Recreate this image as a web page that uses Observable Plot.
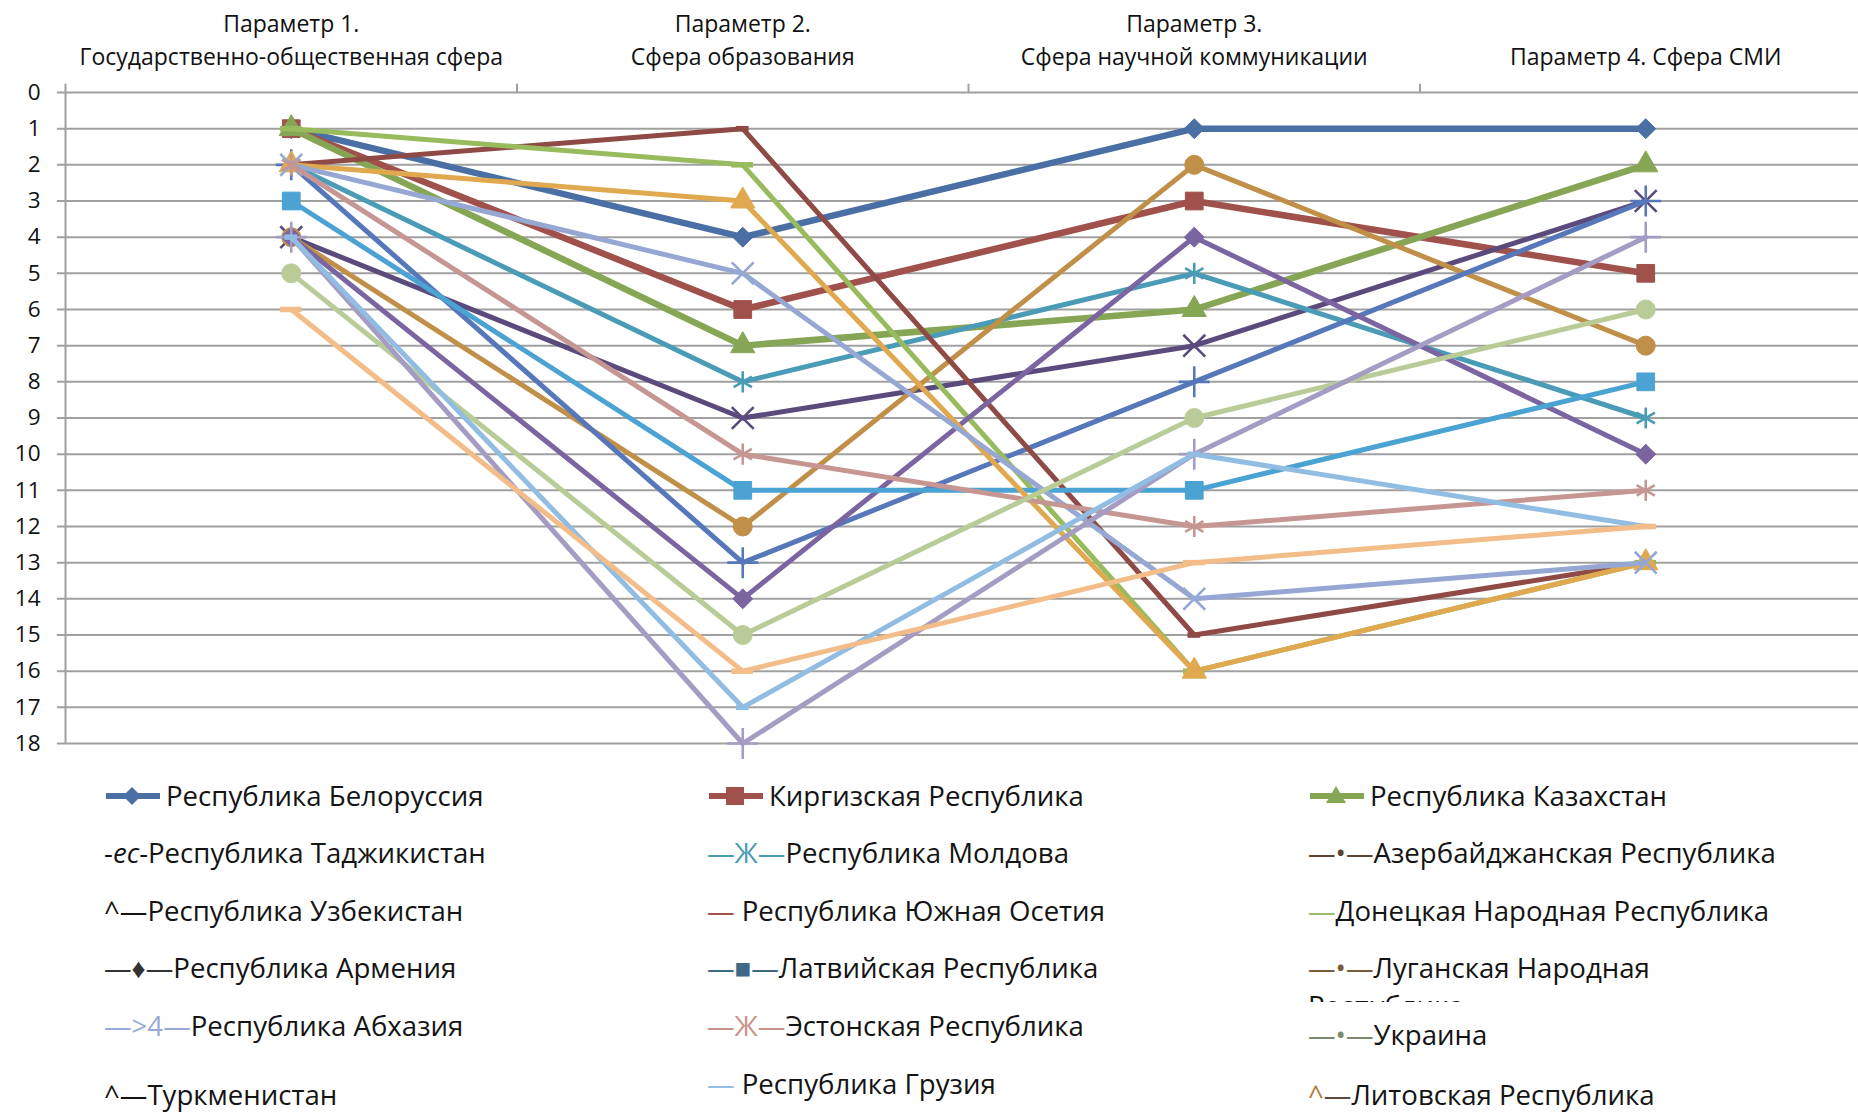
<!DOCTYPE html>
<html><head><meta charset="utf-8">
<script src="https://cdn.jsdelivr.net/npm/d3@7"></script>
<script src="https://cdn.jsdelivr.net/npm/@observablehq/plot@0.6"></script>
<style>
body{margin:0;background:#fff;font-family:"Open Sans",sans-serif;}
#wrap{position:relative;width:1858px;height:1112px;overflow:hidden;background:#fff;}
#chart{position:absolute;left:0;top:0;}
.leg{position:absolute;font-size:27.6px;line-height:32px;white-space:nowrap;color:#141414;}
.leg.clip{line-height:38px;overflow:hidden;}
.leg svg{vertical-align:middle;margin-right:4px;position:relative;top:-3px;}
</style></head><body><div id="wrap"><div id="chart"></div></div>
<script>
// ---- data ----
const paramTitleTop = ["Параметр 1.", "Параметр 2.", "Параметр 3.", ""];
const paramTitleBottom = ["Государственно-общественная сфера", "Сфера образования", "Сфера научной коммуникации", "Параметр 4. Сфера СМИ"];
const countries = [
  "Республика Белоруссия", "Киргизская Республика", "Республика Казахстан",
  "Республика Таджикистан", "Республика Молдова", "Азербайджанская Республика",
  "Республика Узбекистан", "Республика Южная Осетия", "Донецкая Народная Республика",
  "Республика Армения", "Латвийская Республика", "Луганская Народная Республика",
  "Республика Абхазия", "Эстонская Республика", "Украина",
  "Туркменистан", "Республика Грузия", "Литовская Республика"
];
const param1 = [1, 1, 1, 4, 2, 4, 2, 2, 1, 4, 3, 2, 2, 2, 5, 4, 4, 6];
const param2 = [4, 6, 7, 9, 8, 12, 13, 1, 2, 14, 11, 3, 5, 10, 15, 18, 17, 16];
const param3 = [1, 3, 6, 7, 5, 2, 8, 15, 16, 4, 11, 16, 14, 12, 9, 10, 10, 13];
const param4 = [1, 5, 2, 3, 9, 7, 3, 13, 13, 10, 8, 13, 13, 11, 6, 4, 12, 12];
const yTicks = [0,1,2,3,4,5,6,7,8,9,10,11,12,13,14,15,16,17,18];
const seriesColors = ["#4a6fa5","#a0514b","#86a655","#5b4b7d","#4a9bb5","#c08f48","#5677b9","#8f4a45","#98bb5e","#7a65a0","#4ba3d3","#e0a94f","#95a7d2","#c69692","#b9cc98","#a49cc2","#92bde3","#f2bd88"];
const markerCycle = ["diamond","square","triangle","times","asterisk","circle","plus","dash","longdash"];
const legendPrefix = [null, null, null, "-ес-", "—Ж—", "—•—", "^—", "— ", "—", "—♦—", "—■—", "—•—", "—>4—", "—Ж—", "—•—", "^—", "— ", "^—"];
const legendPrefixColor = [null, null, null, "#141414", "#4a9bb5", "#5a4330", "#141414", "#a0514b", "#9bbb6a", "#333333", "#3f6a85", "#7a5a3a", "#98a8d8", "#c8928c", "#7f8a6c", "#141414", "#92bde3", "#8a6a40"];

// ---- tidy table ----
const params = [param1, param2, param3, param4];
const rows = countries.flatMap((c, i) => params.map((p, j) => ({country: c, s: i, param: j, rank: p[i]})));
const headers = paramTitleBottom.map((t, i) => ({i, top: paramTitleTop[i], bottom: t}));

const grid = "#a0a0a0";
const marks = [
  Plot.ruleY(yTicks, {y: d => d, x1: () => -0.518, x2: () => 3.5, stroke: grid, strokeWidth: 2}),
  Plot.ruleX([-0.5], {y1: () => 0, y2: () => 18, stroke: grid, strokeWidth: 2}),
  Plot.ruleX([-0.5, 0.5, 1.5, 2.5], {y1: () => 0, y2: () => -0.23, stroke: grid, strokeWidth: 2}),
  Plot.axisY({ticks: yTicks, tickSize: 0, tickPadding: 25, fontSize: 22.5, fill: "#111", label: null, tickFormat: d => String(d)}),
  Plot.text(headers, {x: "i", y: () => 0, text: "top", dy: -68, fontSize: 23, fill: "#111"}),
  Plot.text(headers, {x: "i", y: () => 0, text: "bottom", dy: -35, fontSize: 23, fill: "#111"})
];

countries.forEach((c, i) => {
  const data = rows.filter(d => d.s === i);
  const color = seriesColors[i];
  marks.push(Plot.line(data, {x: "param", y: "rank", stroke: color, strokeWidth: i < 3 ? 6.5 : 5}));
  const kind = markerCycle[i % 9];
  if (kind === "dash" || kind === "longdash") {
    const h = kind === "dash" ? 0.014 : 0.024;
    marks.push(Plot.ruleY(data, {y: "rank", x1: d => d.param - h, x2: d => d.param + h, stroke: color, strokeWidth: 5.5}));
  } else if (kind === "times" || kind === "asterisk" || kind === "plus") {
    marks.push(Plot.dot(data, {x: "param", y: "rank", symbol: kind, r: 10, stroke: color, strokeWidth: 2.6, fill: "none"}));
  } else {
    const sym = kind === "diamond" ? "diamond2" : kind;
    const r = kind === "square" ? 10 : kind === "circle" ? 9.5 : 9;
    marks.push(Plot.dot(data, {x: "param", y: "rank", symbol: sym, r, fill: color, stroke: color, strokeWidth: 1}));
  }
});

const chart = Plot.plot({
  width: 1858, height: 760,
  marginLeft: 65, marginRight: 0, marginTop: 92, marginBottom: 17,
  x: {domain: [-0.5, 3.5], range: [65, 1871], axis: null},
  y: {domain: [0, 18], reverse: true, axis: null},
  style: {fontFamily: "'Open Sans', sans-serif", background: "white", overflow: "hidden"},
  marks
});
document.getElementById("chart").appendChild(chart);

// ---- legend (HTML) ----
const wrap = document.getElementById("wrap");
const colX = [104, 707, 1308];
const rowCenter = [795, 852, 910, 967, 1025, 1092];
const centerFix = {14: 1034, 16: 1083, 15: 1094, 17: 1094};
function swatch(i) {
  const c = seriesColors[i];
  const kind = markerCycle[i];
  let m = "";
  if (kind === "diamond") m = `<path d="M28 3 L37 12 L28 21 L19 12 Z" fill="${c}"/>`;
  else if (kind === "square") m = `<rect x="19" y="3" width="18" height="18" fill="${c}"/>`;
  else m = `<path d="M28 2 L38 19 L18 19 Z" fill="${c}"/>`;
  return `<svg width="58" height="24"><line x1="2" y1="12" x2="56" y2="12" stroke="${c}" stroke-width="6"/>${m}</svg>`;
}
countries.forEach((name, i) => {
  const row = Math.floor(i / 3), col = i % 3;
  const cy = centerFix[i] !== undefined ? centerFix[i] : rowCenter[row];
  const div = document.createElement("div");
  div.className = "leg";
  div.style.left = colX[col] + "px";
  div.style.top = (cy - 16) + "px";
  let label = name;
  if (i === 11) {
    label = "Луганская Народная<br>Республика";
    div.className = "leg clip";
    div.style.top = (cy - 19) + "px";
    div.style.height = "54px";
  }
  let prefix = "";
  if (i < 3) prefix = swatch(i);
  else if (legendPrefix[i] === "-ес-") prefix = `-<i>ес</i>-`;
  else prefix = `<span style="color:${legendPrefixColor[i]}">${legendPrefix[i]}</span>`;
  if (i === 17) prefix = `<span style="color:#b07a3a">^</span><span style="color:#5a4a3a">—</span>`;
  div.innerHTML = prefix + label;
  wrap.appendChild(div);
});
</script></body></html>
